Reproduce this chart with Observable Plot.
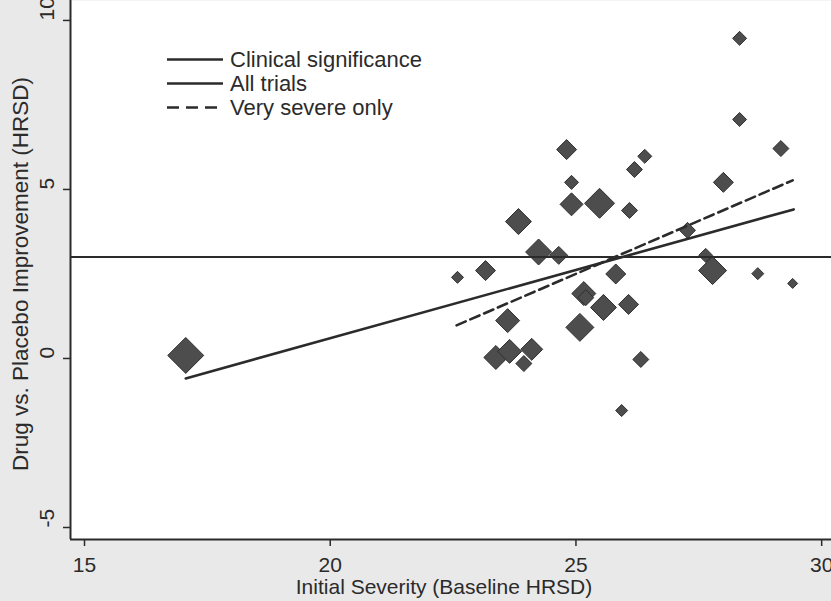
<!DOCTYPE html>
<html>
<head>
<meta charset="utf-8">
<script src="https://cdn.jsdelivr.net/npm/d3@7"></script>
<script src="https://cdn.jsdelivr.net/npm/@observablehq/plot@0.6"></script>
<style>
  html, body { margin: 0; padding: 0; background: #e9e9e9; }
  #chart { width: 831px; height: 601px; }
</style>
</head>
<body>
<div id="chart"></div>
<script>
// ---- Data ----
const xTicks = [15, 20, 25, 30];
const yTicks = [-5, 0, 5, 10];
const xLabel = "Initial Severity (Baseline HRSD)";
const yLabel = "Drug vs. Placebo Improvement (HRSD)";
const legendLabels = ["Clinical significance", "All trials", "Very severe only"];

// trials: baseline severity, drug-placebo improvement, relative weight (marker size)
const baseline = [17.06, 28.33, 28.33, 29.17, 24.81, 24.91, 26.40, 26.19, 28.0, 24.91,
                  25.48, 26.09, 23.83, 27.27, 24.24, 24.65, 27.64, 27.78, 28.70, 29.41,
                  22.59, 23.16, 25.81, 25.16, 25.20, 25.56, 26.07, 23.61, 25.08, 23.37,
                  23.65, 24.10, 23.94, 26.32, 25.93];
const improvement = [0.09, 9.47, 7.07, 6.21, 6.18, 5.21, 5.98, 5.59, 5.21, 4.56,
                     4.59, 4.38, 4.05, 3.79, 3.15, 3.05, 3.05, 2.60, 2.51, 2.22,
                     2.40, 2.60, 2.50, 1.92, 1.80, 1.51, 1.60, 1.12, 0.92, 0.03,
                     0.21, 0.27, -0.15, -0.03, -1.54];
const weight = [324, 49, 49, 64, 100, 49, 49, 64, 100, 132,
                225, 64, 169, 64, 169, 81, 49, 196, 36, 25,
                36, 100, 100, 144, 64, 169, 100, 144, 196, 144,
                144, 121, 64, 64, 36];

const clinicalThreshold = 3;
const allTrialsX = [17.06, 29.43];
const allTrialsY = [-0.59, 4.41];
const severeX = [22.57, 29.41];
const severeY = [0.98, 5.27];

// ---- Build tables ----
const trials = baseline.map((b, i) => ({x: b, y: improvement[i], w: weight[i]}));
const allTrials = allTrialsX.map((x, i) => ({x, y: allTrialsY[i]}));
const severe = severeX.map((x, i) => ({x, y: severeY[i]}));

const xDomain = [14.715, 30.2];
const yDomain = [-5.355, 10.59];
const ink = "#2b2b2b";
const font = "Liberation Sans, Arial, Helvetica, sans-serif";

const plot = Plot.plot({
  width: 831,
  height: 601,
  marginLeft: 70,
  marginRight: 0,
  marginTop: 0,
  marginBottom: 62,
  style: {background: "#e9e9e9", fontFamily: font, color: ink},
  x: {domain: xDomain, axis: null},
  y: {domain: yDomain, axis: null},
  r: {type: "sqrt", domain: [0, 324], range: [0, 16.2]},
  marks: [
    Plot.frame({fill: "white", stroke: null}),
    Plot.dot(trials, {x: "x", y: "y", r: "w", symbol: "diamond2", fill: "#4d4d4d", stroke: "#2f2f2f", strokeWidth: 1}),
    Plot.ruleY([clinicalThreshold], {stroke: ink, strokeWidth: 2}),
    Plot.line(allTrials, {x: "x", y: "y", stroke: ink, strokeWidth: 2.6}),
    Plot.line(severe, {x: "x", y: "y", stroke: ink, strokeWidth: 2.6, strokeDasharray: "10,5"}),
    Plot.ruleX([xDomain[0]], {stroke: ink, strokeWidth: 2}),
    Plot.ruleY([yDomain[0]], {stroke: ink, strokeWidth: 2}),
    Plot.axisX({ticks: xTicks, tickSize: 7, tickPadding: 11, fontSize: 21, label: null, stroke: ink, strokeWidth: 1.5}),
    Plot.axisY({ticks: yTicks, tickSize: 7, tickFormat: () => "", label: null, stroke: ink, strokeWidth: 1.5}),
    Plot.text(yTicks, {y: d => d, frameAnchor: "left", dx: -23, rotate: -90, text: d => String(d), fontSize: 21, fill: ink})
  ]
});

const svg = d3.select(plot);
// axis titles
svg.append("text")
  .attr("x", 444).attr("y", 594)
  .attr("text-anchor", "middle")
  .attr("font-size", 21).attr("font-family", font).attr("fill", ink)
  .text(xLabel);
svg.append("text")
  .attr("transform", "translate(28,274) rotate(-90)")
  .attr("text-anchor", "middle")
  .attr("font-size", 22.5).attr("font-family", font).attr("fill", ink)
  .text(yLabel);

// legend
const legendRows = [59.5, 83.5, 107.5];
const dashes = [null, null, "12,7"];
legendLabels.forEach((lab, i) => {
  svg.append("line")
    .attr("x1", 167).attr("x2", 223)
    .attr("y1", legendRows[i]).attr("y2", legendRows[i])
    .attr("stroke", ink).attr("stroke-width", 2.6)
    .attr("stroke-dasharray", dashes[i]);
  svg.append("text")
    .attr("x", 230).attr("y", legendRows[i])
    .attr("dy", "0.36em")
    .attr("text-anchor", "start")
    .attr("font-size", 22).attr("font-family", font).attr("fill", ink)
    .text(lab);
});

document.getElementById("chart").appendChild(plot);
</script>
</body>
</html>
